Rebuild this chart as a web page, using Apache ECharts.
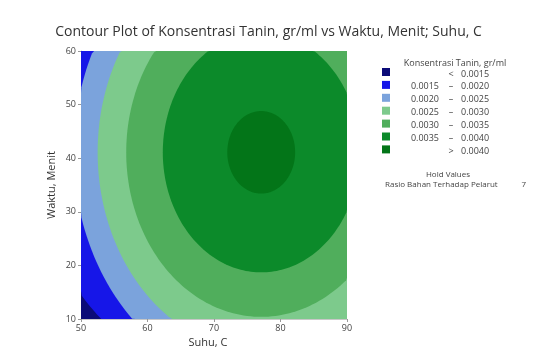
<!DOCTYPE html>
<html>
<head>
<meta charset="utf-8">
<script src="https://cdn.jsdelivr.net/npm/echarts@6/dist/echarts.min.js"></script>
<style>
  html, body { margin: 0; padding: 0; background: #ffffff; }
  #chart { width: 537px; height: 362px; }
</style>
</head>
<body>
<div id="chart"></div>
<script>
// Axis ranges and ticks
const suhuTicks = [50, 60, 70, 80, 90];
const waktuTicks = [10, 20, 30, 40, 50, 60];

// Contour levels of Konsentrasi Tanin (gr/ml)
const levelBounds = [0.0015, 0.0020, 0.0025, 0.0030, 0.0035, 0.0040];
const legendLeft = ['', '0.0015', '0.0020', '0.0025', '0.0030', '0.0035', ''];
const legendSep = ['<', '\u2013', '\u2013', '\u2013', '\u2013', '\u2013', '>'];
const legendRight = ['0.0015', '0.0020', '0.0025', '0.0030', '0.0035', '0.0040', '0.0040'];

// Optimum of the response surface (Suhu, Waktu)
const peakSuhu = 77.1;
const peakWaktu = 41.1;
// Half-widths of each contour boundary along Suhu and Waktu
const semiSuhu = [34.0, 28.2, 24.6, 20.3, 14.8, 5.1];
const semiWaktu = [44.0, 42.8, 37.2, 30.7, 22.4, 7.7];

const bandColors = ['#0b0b78', '#1616e8', '#7ba3dc', '#7dca8c', '#50ae5c', '#0c8a2a', '#037518'];

const FONT = '"Open Sans", "Noto Sans", sans-serif';

const chart = echarts.init(document.getElementById('chart'), null, { renderer: 'canvas' });

// Each item: the band index; index 0 is the full plotting area (lowest band)
const bandData = bandColors.map((c, i) => [i]);

function renderBand(params, api) {
  const idx = api.value(0);
  const cs = params.coordSys;
  const x0 = cs.x, x1 = cs.x + cs.width, y0 = cs.y, y1 = cs.y + cs.height;
  let pts = [];
  if (idx === 0) {
    pts = [
      api.coord([suhuTicks[0], waktuTicks[0]]),
      api.coord([suhuTicks[suhuTicks.length - 1], waktuTicks[0]]),
      api.coord([suhuTicks[suhuTicks.length - 1], waktuTicks[waktuTicks.length - 1]]),
      api.coord([suhuTicks[0], waktuTicks[waktuTicks.length - 1]])
    ];
  } else {
    const a = semiSuhu[idx - 1], b = semiWaktu[idx - 1];
    const n = 240;
    for (let k = 0; k < n; k++) {
      const t = (k / n) * Math.PI * 2;
      const p = api.coord([peakSuhu + a * Math.cos(t), peakWaktu + b * Math.sin(t)]);
      pts.push([
        Math.min(Math.max(p[0], x0), x1),
        Math.min(Math.max(p[1], y0), y1)
      ]);
    }
  }
  return {
    type: 'polygon',
    shape: { points: pts },
    style: { fill: bandColors[idx], stroke: null }
  };
}

// Legend drawn as swatches with two-column ranges
const legendGraphics = [];
legendGraphics.push({
  type: 'text', x: 455, y: 63,
  style: { text: 'Konsentrasi Tanin, gr/ml', font: '9px ' + FONT, fill: '#444', align: 'center', verticalAlign: 'middle' }
});
bandColors.forEach((c, i) => {
  const yc = 72 + i * 12.9;
  legendGraphics.push({
    type: 'rect', shape: { x: 382, y: yc - 4, width: 8, height: 8 },
    style: { fill: c }
  });
  if (legendLeft[i]) {
    legendGraphics.push({
      type: 'text', x: 439, y: yc + 2,
      style: { text: legendLeft[i], font: '9px ' + FONT, fill: '#444', align: 'right', verticalAlign: 'middle' }
    });
  }
  legendGraphics.push({
    type: 'text', x: 451, y: yc + 2,
    style: { text: legendSep[i], font: '9px ' + FONT, fill: '#444', align: 'center', verticalAlign: 'middle' }
  });
  legendGraphics.push({
    type: 'text', x: 461, y: yc + 2,
    style: { text: legendRight[i], font: '9px ' + FONT, fill: '#444', align: 'left', verticalAlign: 'middle' }
  });
});
legendGraphics.push({
  type: 'text', x: 448, y: 175,
  style: { text: 'Hold Values', font: '8px ' + FONT, fill: '#444', align: 'center', verticalAlign: 'middle' }
});
legendGraphics.push({
  type: 'text', x: 385, y: 185,
  style: { text: 'Rasio Bahan Terhadap Pelarut', font: '8px ' + FONT, fill: '#444', align: 'left', verticalAlign: 'middle' }
});
legendGraphics.push({
  type: 'text', x: 526, y: 185,
  style: { text: '7', font: '8px ' + FONT, fill: '#444', align: 'right', verticalAlign: 'middle' }
});
// Axis titles
legendGraphics.push({
  type: 'text', x: 208, y: 343,
  style: { text: 'Suhu, C', font: '11px ' + FONT, fill: '#333', align: 'center', verticalAlign: 'middle' }
});
legendGraphics.push({
  type: 'text', x: 52, y: 185, rotation: Math.PI / 2,
  style: { text: 'Waktu, Menit', font: '11px ' + FONT, fill: '#333', align: 'center', verticalAlign: 'middle' }
});

chart.setOption({
  animation: false,
  backgroundColor: '#ffffff',
  title: {
    text: 'Contour Plot of Konsentrasi Tanin, gr/ml vs Waktu, Menit; Suhu, C',
    left: 'center', top: 20,
    textStyle: { fontFamily: FONT, fontSize: 14, fontWeight: 'normal', color: '#333' }
  },
  grid: { left: 81, right: 190, top: 51, bottom: 43 },
  xAxis: {
    type: 'value', min: suhuTicks[0], max: suhuTicks[suhuTicks.length - 1], interval: 10,
    axisLine: { show: true, lineStyle: { color: '#c8c8c8', width: 1 } },
    axisTick: { show: true, length: 3, lineStyle: { color: '#999' } },
    axisLabel: { fontFamily: FONT, fontSize: 9, color: '#444', margin: 5 },
    splitLine: { show: false }
  },
  yAxis: {
    type: 'value', min: waktuTicks[0], max: waktuTicks[waktuTicks.length - 1], interval: 10,
    axisLine: { show: true, lineStyle: { color: '#c8c8c8', width: 1 } },
    axisTick: { show: true, length: 3, lineStyle: { color: '#999' } },
    axisLabel: { fontFamily: FONT, fontSize: 9, color: '#444', margin: 5 },
    splitLine: { show: false }
  },
  series: [{
    type: 'custom',
    coordinateSystem: 'cartesian2d',
    renderItem: renderBand,
    data: bandData,
    clip: true,
    z: 1
  }],
  graphic: legendGraphics
});
</script>
</body>
</html>
